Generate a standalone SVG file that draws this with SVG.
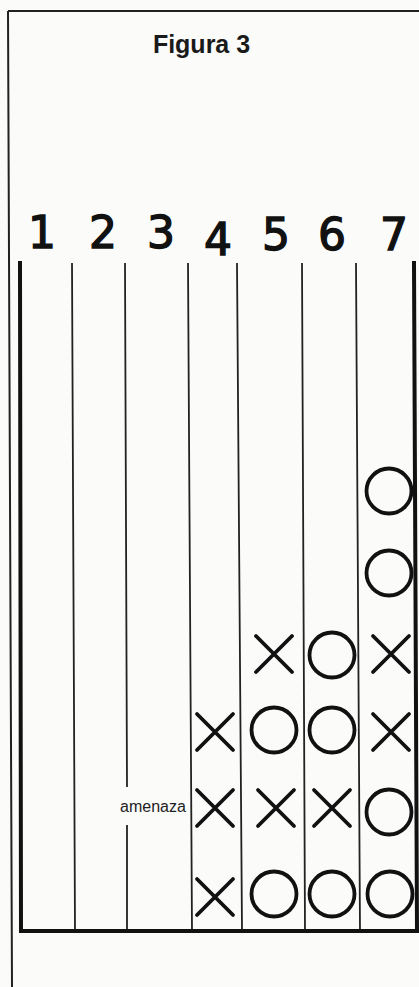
<svg xmlns="http://www.w3.org/2000/svg" xmlns:xlink="http://www.w3.org/1999/xlink" width="419" height="987" viewBox="0 0 419 987">
  <style>
    .frame { stroke: #222; stroke-width: 2; fill: none; }
    .grid { stroke: #222; stroke-width: 1.8; fill: none; }
    .thick { stroke: #111; stroke-width: 4; fill: none; stroke-linecap: square; }
    .piece { stroke: #111; stroke-width: 3.8; fill: none; stroke-linecap: round; }
    .title { font-family: "Liberation Sans", Arial, sans-serif; font-weight: bold; font-size: 25px; fill: #1a1a1a; }
    .num { font-family: "DejaVu Sans", "Liberation Sans", sans-serif; font-size: 44px; fill: #111; stroke: #111; stroke-width: 1.4; text-anchor: middle; }
    .lbl { font-family: "Liberation Sans", Arial, sans-serif; font-size: 16px; fill: #222; }
  </style>
  <defs>
    <g id="xmark"><path class="piece" d="M-18,-18 L18,18 M18,-18 L-18,18"/></g>
    <g id="omark"><circle class="piece" cx="0" cy="0" r="22.5"/></g>
  </defs>
  <rect x="0" y="0" width="419" height="987" fill="#fbfbfa"/>

  <g id="frame">
    <path class="frame" d="M8,11 L419,11 M8,11 L12,987"/>
  </g>

  <g id="title">
    <text class="title" x="201.5" y="53" text-anchor="middle">Figura 3</text>
  </g>

  <g id="column-numbers">
    <text class="num" x="42" y="248">1</text>
    <text class="num" x="103" y="248">2</text>
    <text class="num" x="161" y="248">3</text>
    <text class="num" x="218" y="255">4</text>
    <text class="num" x="276" y="250">5</text>
    <text class="num" x="332" y="250">6</text>
    <text class="num" x="394" y="250">7</text>
  </g>

  <g id="board">
    <path class="grid" d="M72,263 L75,931 M125,263 L127,787 M127,825 L127,931 M188,263 L192,931 M237,263 L242,931 M302,263 L305,931 M356,263 L360,931"/>
    <path class="thick" d="M20,263 L21,931 L419,931 M414,263 L417,931"/>
  </g>

  <g id="label-amenaza">
    <text class="lbl" x="153" y="812" text-anchor="middle">amenaza</text>
  </g>

  <g id="pieces">
    <g id="r1c7"><use xlink:href="#omark" x="389" y="491"/></g>
    <g id="r2c7"><use xlink:href="#omark" x="389" y="573"/></g>
    <g id="r3c5"><use xlink:href="#xmark" x="274" y="654"/></g>
    <g id="r3c6"><use xlink:href="#omark" x="332" y="655"/></g>
    <g id="r3c7"><use xlink:href="#xmark" x="391" y="654"/></g>
    <g id="r4c4"><use xlink:href="#xmark" x="215" y="732"/></g>
    <g id="r4c5"><use xlink:href="#omark" x="274" y="730"/></g>
    <g id="r4c6"><use xlink:href="#omark" x="332" y="730"/></g>
    <g id="r4c7"><use xlink:href="#xmark" x="391" y="732"/></g>
    <g id="r5c4"><use xlink:href="#xmark" x="215" y="808"/></g>
    <g id="r5c5"><use xlink:href="#xmark" x="276" y="808"/></g>
    <g id="r5c6"><use xlink:href="#xmark" x="332" y="808"/></g>
    <g id="r5c7"><use xlink:href="#omark" x="389" y="812"/></g>
    <g id="r6c4"><use xlink:href="#xmark" x="215" y="897"/></g>
    <g id="r6c5"><use xlink:href="#omark" x="274" y="894"/></g>
    <g id="r6c6"><use xlink:href="#omark" x="332" y="894"/></g>
    <g id="r6c7"><use xlink:href="#omark" x="390" y="894"/></g>
  </g>
</svg>
